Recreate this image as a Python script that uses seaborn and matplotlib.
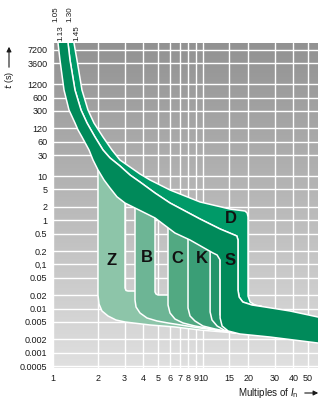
import numpy as np
import matplotlib
matplotlib.use("Agg")
import matplotlib.pyplot as plt
import seaborn as sns
from matplotlib.patches import Polygon
from matplotlib.colors import LinearSegmentedColormap
from matplotlib.ticker import FixedLocator, FixedFormatter, NullLocator

sns.set_style("white")
plt.rcParams['font.family'] = ['Liberation Sans Narrow', 'Liberation Sans', 'DejaVu Sans']

# ---------------- data (multiples of In, seconds) ----------------
x_ticks = [1, 2, 3, 4, 5, 6, 7, 8, 9, 10, 15, 20, 30, 40, 50]
x_tick_labels = ["1", "2", "3", "4", "5", "6", "7", "8", "9", "10", "15", "20", "30", "40", "50"]
y_ticks = [0.0005, 0.001, 0.002, 0.005, 0.01, 0.02, 0.05, 0.1, 0.2, 0.5,
           1, 2, 5, 10, 30, 60, 120, 300, 600, 1200, 3600, 7200]
y_tick_labels = ["0.0005", "0.001", "0.002", "0.005", "0.01", "0.02", "0.05", "0,1", "0.2", "0.5",
                 "1", "2", "5", "10", "30", "60", "120", "300", "600", "1200", "3600", "7200"]

# thermal band: lower (left) edge, upper edge, and the D band upper edge
L_x = [1.072, 1.080, 1.113, 1.184, 1.278, 1.401, 1.468, 1.560, 1.738, 1.848, 1.995, 2.188,
       2.399, 2.67, 3.02, 3.52, 4.786, 6.5, 8.19, 11.66, 12.41, 13.0]
L_t = [20400, 10370, 4270, 893, 315, 160, 111, 77, 39.1, 23.2, 13.8, 8.18,
       5.39, 3.4, 2.46, 1.90, 1.13, 0.515, 0.358, 0.1815, 0.1637, 0.126]
U_x = [1.249, 1.259, 1.298, 1.401, 1.537, 1.685, 1.905, 2.154, 2.399, 2.795, 3.262, 3.80,
       4.786, 6.03, 9.55, 13.0, 16.8]
U_t = [20400, 10370, 4270, 893, 315, 160, 77, 39.1, 25.8, 17.0, 10.6, 7.36,
       4.15, 2.46, 1.07, 0.635, 0.441]
D_x = [1.370, 1.380, 1.445, 1.560, 1.711, 1.876, 2.154, 2.473, 2.795, 3.262, 3.80, 4.436,
       6.03, 9.55, 15.1, 19.05, 19.7, 19.95, 19.95, 20.6, 22.2, 24.7]
D_t = [20400, 10370, 4270, 893, 315, 160, 77, 39.1, 23.2, 16.1, 11.2, 8.18,
       4.85, 2.60, 1.80, 1.62, 1.46, 1.19, 0.0193, 0.0141, 0.01205, 0.01114]

# S / bottom part of the main band
S_x = [13.0, 13.4, 14.7, 17.6, 27.9, 58.3, 70, 70, 58.3, 38, 25.9, 21.2, 18.4, 17.4, 17.1, 17.1]
S_t = [0.00612, 0.00403, 0.00311, 0.00266, 0.00227, 0.00166, 0.00154, 0.00581, 0.00645,
       0.00882, 0.01086, 0.01205, 0.0141, 0.0183, 0.0264, 0.358]
S_top_x = [21.2, 18.4, 17.4, 17.1, 17.1]
S_top_t = [0.01205, 0.0141, 0.0183, 0.0264, 0.358]

# magnetic bands (outline below the thermal curve)
Z_x = [1.995, 3.02, 3.02, 3.066, 3.162, 3.80, 3.80, 16.4, 16.4, 9.55, 6.5, 4.436, 3.02,
       2.63, 2.327, 2.121, 2.026, 1.995]
Z_t = [1e5, 1e5, 0.0293, 0.0257, 0.0250, 0.0250, 0.01565, 0.01565, 0.0028, 0.00327, 0.00383,
       0.00425, 0.00497, 0.00551, 0.00679, 0.00882, 0.0127, 0.0203]
B_x = [3.52, 4.786, 4.786, 4.86, 5.012, 6.215, 6.215, 16.4, 16.4, 9.55, 5.843, 4.935, 4.233,
       3.802, 3.577, 3.52]
B_t = [1e5, 1e5, 0.0238, 0.0214, 0.0203, 0.0203, 0.01205, 0.01205, 0.0028, 0.00363, 0.00472,
       0.00524, 0.00612, 0.00794, 0.01086, 0.01565]
C_x = [5.843, 8.83, 8.83, 16.4, 16.4, 8.83, 7.356, 6.5, 6.026, 5.843]
C_t = [1e5, 1e5, 0.00929, 0.00929, 0.0028, 0.00403, 0.00472, 0.00581, 0.00794, 0.01205]
K_x = [7.943, 13.0, 13.0, 16.4, 16.4, 12.02, 10.0, 8.83, 8.19, 7.943]
K_t = [1e5, 1e5, 0.00837, 0.00837, 0.0028, 0.00345, 0.00403, 0.00524, 0.00679, 0.0103]
K2_x = [11.15, 13.0, 13.0, 16.4, 16.4, 13.8, 12.41, 11.48, 11.15]
K2_t = [1e5, 1e5, 0.00716, 0.00716, 0.0028, 0.00327, 0.00403, 0.00551, 0.00837]

letters = ["Z", "B", "C", "K", "S", "D"]
letter_x = [2.47, 4.23, 6.7, 9.85, 15.1, 15.3]
letter_t = [0.126, 0.14, 0.133, 0.133, 0.126, 1.1]

top_labels = ["1.05", "1.13", "1.30", "1.45"]
top_label_x = [1.05, 1.13, 1.30, 1.45]

col_bg_top, col_bg_bot = "#929292", "#e0e0e0"
col_Z, col_B, col_C, col_K, col_K2 = "#8dc5a9", "#6db595", "#52a982", "#3a9e76", "#22946a"
col_main, col_D = "#008a5a", "#009a68"

# ---------------- figure ----------------
W, H = 329, 407
fig = plt.figure(figsize=(W / 100, H / 100), dpi=100)
ax = fig.add_axes([53 / W, 1 - 368 / H, (318 - 53) / W, (368 - 43) / H])
ax.set_xscale("log")
ax.set_yscale("log")

grad = np.linspace(0, 1, 256).reshape(-1, 1)
cmap = LinearSegmentedColormap.from_list("bg", [col_bg_top, col_bg_bot])
ax.imshow(grad, extent=[0, 1, 0, 1], transform=ax.transAxes, aspect="auto",
          cmap=cmap, zorder=0.1, origin="upper")

ax.set_xlim(1, 58.4)
ax.set_ylim(0.000451, 10370)

ax.xaxis.set_major_locator(FixedLocator(x_ticks))
ax.xaxis.set_major_formatter(FixedFormatter(x_tick_labels))
ax.yaxis.set_major_locator(FixedLocator(y_ticks))
ax.yaxis.set_major_formatter(FixedFormatter(y_tick_labels))
ax.xaxis.set_minor_locator(NullLocator())
ax.yaxis.set_minor_locator(NullLocator())
ax.set_axisbelow(True)
ax.grid(True, color="white", lw=1.0)
ax.tick_params(length=0, labelsize=6.5, labelcolor="#1a1a1a", pad=4)
for s in ax.spines.values():
    s.set_visible(False)

edge = dict(edgecolor="white", linewidth=1.1, joinstyle="round")

# clip region below the thermal curve
clip = Polygon(list(zip(L_x, L_t)) + [(1000, L_t[-1]), (1000, 1e-8), (L_x[0], 1e-8)], closed=True)
clip.set_transform(ax.transData)

# D band
d_verts = list(zip(D_x, D_t)) + list(zip(S_top_x, S_top_t)) + list(zip(U_x, U_t))[::-1]
ax.add_patch(Polygon(d_verts, closed=True, facecolor=col_D, zorder=2, **edge))

# magnetic bands
for bx, bt, c, z in [(Z_x, Z_t, col_Z, 3), (B_x, B_t, col_B, 4), (C_x, C_t, col_C, 5),
                     (K_x, K_t, col_K, 6), (K2_x, K2_t, col_K2, 7)]:
    p = Polygon(list(zip(bx, bt)), closed=True, facecolor=c, zorder=z, **edge)
    ax.add_patch(p)
    p.set_clip_path(clip)

# main band (thermal + S + bottom)
m_verts = list(zip(L_x, L_t)) + list(zip(S_x, S_t)) + list(zip(U_x, U_t))[::-1]
ax.add_patch(Polygon(m_verts, closed=True, facecolor=col_main, zorder=8, **edge))

for lab, lx, lt in zip(letters, letter_x, letter_t):
    ax.text(lx, lt, lab, ha="center", va="center", fontsize=12, fontweight="bold",
            color="#111111", zorder=10, family=["Liberation Sans", "DejaVu Sans"])

tr = ax.get_xaxis_transform()
for i, (lab, lx) in enumerate(zip(top_labels, top_label_x)):
    yb = 1.065 if i % 2 == 0 else 1.006
    ax.text(lx, yb, lab, rotation=90, ha="center", va="bottom", fontsize=5.8,
            color="#1a1a1a", transform=tr, clip_on=False)

# axis titles with arrows
fig.text(9 / W, 1 - 80 / H, "$t$ (s)", rotation=90, ha="center", va="center",
         fontsize=6.5, color="#1a1a1a")
ax.annotate("", xy=(9, H - 44), xytext=(9, H - 70), xycoords="figure pixels",
            textcoords="figure pixels",
            arrowprops=dict(arrowstyle="-|>", color="#1a1a1a", lw=0.8, mutation_scale=7))
fig.text(299 / W, 1 - 393 / H, "Multiples of $I_\\mathrm{n}$", ha="right", va="center",
         fontsize=7, color="#1a1a1a")
ax.annotate("", xy=(321, H - 393), xytext=(302, H - 393), xycoords="figure pixels",
            textcoords="figure pixels",
            arrowprops=dict(arrowstyle="-|>", color="#1a1a1a", lw=0.8, mutation_scale=7))

fig.savefig("out.png", dpi=100)
